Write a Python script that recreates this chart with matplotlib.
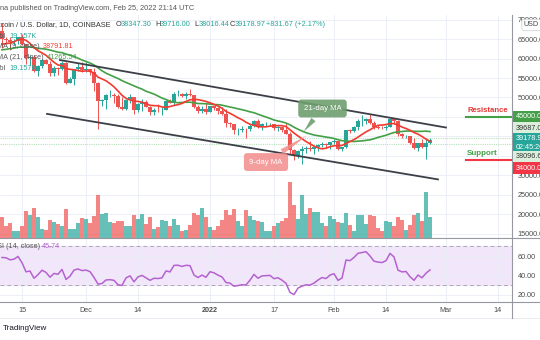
import matplotlib
matplotlib.use("Agg")
import matplotlib.pyplot as plt
import matplotlib.dates as mdates
import matplotlib.transforms as mtransforms
from matplotlib.lines import Line2D
import numpy as np
import pandas as pd

plt.rcParams["font.family"] = ["Liberation Sans", "DejaVu Sans"]

# closes before the visible window (Oct 1 - Nov 9 2021), only used to warm up MA / RSI
warmup_close = [48100, 47650, 48200, 49250, 51500, 55340, 53800, 53950, 54950, 54680,
                57480, 56040, 57370, 57350, 61670, 60880, 61530, 62030, 64260, 65990,
                62200, 60700, 61300, 60850, 63080, 60330, 58450, 60600, 62250, 61850,
                61300, 61000, 63250, 62950, 61450, 61000, 61500, 63300, 67550, 66950]

# daily BTC/USD candles, Nov 10 2021 - Feb 25 2022
opens = [66950, 64900, 64800, 64150, 64400, 65500, 63600, 60100, 60350, 56900, 58100, 59700, 58700, 56300, 57600, 57200, 58900, 53600, 54800, 57300, 57800,
         57000, 57200, 56500, 53600, 49200, 49400, 50600, 50700, 50300, 47600, 47100, 49400, 50100, 46700, 48400, 48900, 47600, 46200, 46850, 46700, 46900, 49000, 48600, 50800, 50850, 50450, 50800, 50700, 47500, 46450, 47100,
         46200, 47700, 47300, 46450, 45800, 43400, 43100, 41550, 41700, 41850, 41800, 42700, 43900, 42600, 43100, 43150, 43200, 42250, 42400, 41700, 40700, 36450, 35050, 36300, 36700, 36950, 36850, 37200, 37750, 38200, 37900,
         38500, 38750, 36900, 37300, 41550, 41400, 42400, 43850, 44100, 44400, 43550, 42400, 42200, 42100, 42550, 44600, 43900, 40550, 40000, 40100, 38400, 37050, 38250, 37250, 38347.30]
highs = [69000, 65600, 65500, 65000, 65500, 66300, 63600, 60800, 60950, 58400, 59900, 60000, 59300, 58000, 57800, 59400, 59200, 55300, 57400, 58900, 59200,
         59100, 57400, 57600, 53900, 49700, 50900, 51900, 51200, 50800, 50100, 49500, 50800, 50200, 48700, 49500, 49400, 47900, 47300, 48300, 47500, 49300, 49600, 51400, 51800, 51200, 51300, 52100, 50700, 48100, 47900, 48500,
         47900, 47900, 47500, 47500, 47000, 43700, 43100, 42300, 42800, 42200, 43100, 44300, 44400, 43400, 43800, 43500, 43200, 42700, 42500, 43500, 41100, 36850, 36500, 37500, 37550, 38900, 37500, 38000, 38700, 38400, 38700,
         39300, 38850, 37400, 41700, 41900, 42600, 44500, 45500, 44800, 45800, 43900, 43000, 42800, 42900, 44800, 44600, 44200, 40950, 40500, 40150, 39500, 38450, 39300, 39700, 39716.00]
lows = [62800, 64100, 62300, 63400, 63600, 63500, 58600, 58400, 56500, 55600, 57500, 58500, 55600, 55400, 55800, 57000, 53500, 53600, 53300, 56700, 56500,
        56500, 55800, 51700, 42000, 47700, 47100, 50100, 48600, 47300, 46900, 46800, 48700, 45700, 46300, 46600, 47500, 45500, 45600, 46400, 45600, 46700, 48500, 48100, 50500, 50200, 49500, 50500, 47300, 46100, 46000, 45700,
        46200, 46700, 45700, 45500, 42500, 42500, 40600, 40500, 41200, 39600, 41300, 42500, 42300, 41700, 42600, 42700, 41600, 41300, 41100, 40600, 35500, 34000, 34600, 32900, 35700, 36400, 35500, 36200, 37300, 37400, 36700,
        38200, 36600, 36300, 37100, 40900, 41100, 41700, 42700, 43100, 43200, 42000, 41800, 41900, 41600, 42400, 43300, 40100, 39500, 39700, 38000, 36800, 36400, 37050, 34300, 38016.44]
closes = [64900, 64800, 64150, 64400, 65500, 63600, 60100, 60350, 56900, 58100, 59700, 58700, 56300, 57600, 57200, 58900, 53600, 54800, 57300, 57800, 57000,
          57200, 56500, 53600, 49200, 49400, 50600, 50700, 50300, 47600, 47100, 49400, 50100, 46700, 48400, 48900, 47600, 46200, 46850, 46700, 46900, 49000, 48600, 50800, 50850, 50450, 50800, 50700, 47500, 46450, 47100, 46200,
          47700, 47300, 46450, 45800, 43400, 43100, 41550, 41700, 41850, 41800, 42700, 43900, 42600, 43100, 43150, 43200, 42250, 42400, 41700, 40700, 36450, 35050, 36300, 36700, 36950, 36850, 37200, 37750, 38200, 37900, 38500,
          38750, 36900, 37300, 41550, 41400, 42400, 43850, 44100, 44400, 43550, 42400, 42200, 42100, 42550, 44600, 43900, 40550, 40000, 40100, 38400, 37050, 38250, 37250, 38347.30, 39178.97]
volumes_k = [18.9, 10.5, 13.5, 6.0, 6.6, 10.5, 24.5, 20.4, 26.9, 18.3, 7.8, 7.2, 16.2, 14.1, 12.6, 11.1, 25.7, 8.4, 8.4, 13.5, 18.0,
             16.8, 13.2, 19.5, 38.3, 21.5, 22.7, 14.4, 13.2, 15.3, 15.3, 11.1, 10.8, 20.4, 17.4, 21.5, 12.9, 18.3, 8.4, 10.2, 16.2, 15.6, 11.1, 16.8, 11.7, 6.0, 7.2, 11.7, 22.4, 20.1, 27.2, 18.9,
             9.9, 7.5, 11.1, 16.2, 25.1, 20.4, 26.3, 15.6, 11.1, 25.1, 19.5, 16.5, 15.0, 14.1, 6.6, 6.6, 11.1, 13.8, 15.6, 18.0, 49.7, 29.3, 17.4, 38.3, 21.8, 27.2, 23.3, 23.0, 13.2, 11.1, 19.5,
             16.8, 14.1, 13.2, 22.1, 11.7, 6.6, 20.1, 20.7, 12.6, 20.1, 19.5, 9.0, 6.6, 15.3, 14.7, 10.5, 18.6, 16.2, 6.9, 11.4, 20.7, 22.7, 15.6, 40.7, 19.157]

# drawn channel and levels
upper_channel = (["2021-11-24 12:00", "2022-03-01 00:00"], [59600, 42300])
lower_channel = (["2021-11-21 06:00", "2022-02-27 00:00"], [45800, 29000])
resistance = 45000
support = 34000
hi_line, lo_line = 39687.02, 38096.60
time_ticks = ["2021-11-15", "2021-12-01", "2021-12-14", "2022-01-01", "2022-01-17",
              "2022-02-01", "2022-02-14", "2022-03-01", "2022-03-14"]
time_labels = ["15", "Dec", "14", "2022", "17", "Feb", "14", "Mar", "14"]
price_ticks = list(range(15000, 75000, 5000))
hidden_price_labels = [35000, 40000, 45000]   # covered by the price tags

UP, DOWN = "#26a69a", "#ef5350"
FS = 5.2

# indicators from the closes
all_close = pd.Series(warmup_close + closes, dtype=float)
ma9 = all_close.rolling(9).mean().iloc[len(warmup_close):].values
ma21 = all_close.rolling(21).mean().iloc[len(warmup_close):].values
delta = all_close.diff()
avg_gain = delta.clip(lower=0).ewm(alpha=1 / 14, adjust=False).mean()
avg_loss = (-delta.clip(upper=0)).ewm(alpha=1 / 14, adjust=False).mean()
rsi = (100 - 100 / (1 + avg_gain / avg_loss)).iloc[len(warmup_close):].values

dates = pd.date_range("2021-11-10", periods=len(closes), freq="D")
x = mdates.date2num(dates)
o, h, l, c = map(np.array, (opens, highs, lows, closes))
colors = np.where(c >= o, UP, DOWN)


def P(px, py):
    return px / 540, 1 - py / 340


def dnum(s):
    return mdates.date2num(pd.Timestamp(s))


fig = plt.figure(figsize=(5.4, 3.4), dpi=100)
fig.patch.set_facecolor("white")

ax = fig.add_axes([0, 1 - 238 / 340, 512 / 540, 223 / 340])
ax_vol = fig.add_axes([0, 1 - 238 / 340, 512 / 540, 223 / 340], sharex=ax, facecolor="none")
ax_rsi = fig.add_axes([0, 1 - 302 / 340, 512 / 540, 64 / 340], sharex=ax)

x0 = dnum("2021-11-15") - 5.5
ax.set_xlim(x0, x0 + 128)
ax.set_ylim(13974, 71154)
ax_vol.set_ylim(0, 199)
ax_rsi.set_ylim(12.8, 78.5)

tick_x = [dnum(t) for t in time_ticks]
for a in (ax, ax_rsi):
    for s in a.spines.values():
        s.set_visible(False)
    a.set_xticks(tick_x)
    a.grid(True, color="#e9eef5", lw=0.6)
    a.set_axisbelow(True)
    a.yaxis.tick_right()
    a.tick_params(axis="y", length=0, pad=4, labelsize=FS, labelcolor="#4a4a4a")
    a.tick_params(axis="x", length=0, labelbottom=False)
ax_vol.axis("off")

# time labels under the RSI pane
tr = mtransforms.blended_transform_factory(ax_rsi.transData, fig.transFigure)
for tx, lab in zip(tick_x, time_labels):
    ax_rsi.text(tx, 1 - 310 / 340, lab, transform=tr, ha="center", va="center",
                fontsize=FS, color="#4a4a4a", fontweight="bold" if lab == "2022" else "normal")

ax.set_yticks(price_ticks)
ax.set_yticklabels(["" if v in hidden_price_labels else f"{v:.2f}" for v in price_ticks])
ax_rsi.set_yticks([20, 40, 60])
ax_rsi.set_yticklabels(["20.00", "40.00", "60.00"])

# level lines
ax.axhline(hi_line, color="#b9e0bb", lw=0.8, ls=(0, (1, 1)))
ax.axhline(lo_line, color="#b9e0bb", lw=0.8, ls=(0, (1, 1)))

# candles
ax.vlines(x, l, h, color=colors, lw=0.7, zorder=3)
ax.bar(x, np.maximum(np.abs(c - o), 60), bottom=np.minimum(o, c), width=0.76, color=colors, zorder=4)

# moving averages
ax.plot(x, ma21, color="#43a047", lw=1.2, zorder=5)
ax.plot(x, ma9, color="#f23b30", lw=1.2, zorder=5)

# channel
for d, p in (upper_channel, lower_channel):
    ax.plot([dnum(s) for s in d], p, color="#3c3f47", lw=1.3, zorder=6)

# support / resistance
lvl_x0 = dnum("2022-03-06")
ax.plot([lvl_x0, x0 + 128], [resistance, resistance], color="#43a047", lw=1.5, zorder=6)
ax.plot([lvl_x0, x0 + 128], [support, support], color="#f23645", lw=1.5, zorder=6)
ax.text(lvl_x0 + 0.25, 46550, "Resistance", color="#e53935", fontsize=5.6, fontweight="bold", va="center")
ax.text(lvl_x0 + 0.25, 35750, "Support", color="#43a047", fontsize=5.8, fontweight="bold", va="center")

# callouts
ax.annotate("21-day MA", xy=(dnum("2022-01-24"), 40700),
            xytext=(dnum("2022-01-29 03:00"), 47180),
            ha="center", va="center", color="white", fontsize=5.6, zorder=7,
            bbox=dict(boxstyle="round,pad=0.7,rounding_size=0.4", fc="#6f9f6f", ec="none", alpha=0.9),
            arrowprops=dict(arrowstyle="wedge,tail_width=0.7", fc="#6f9f6f", ec="none", alpha=0.9))
ax.annotate("9-day MA", xy=(dnum("2022-01-25 18:00"), 40600),
            xytext=(dnum("2022-01-15"), 33450),
            ha="center", va="center", color="white", fontsize=5.6, zorder=7,
            bbox=dict(boxstyle="round,pad=0.7,rounding_size=0.4", fc="#f28c8c", ec="none", alpha=0.85),
            arrowprops=dict(arrowstyle="wedge,tail_width=0.7", fc="#f28c8c", ec="none", alpha=0.85))

# volume
ax_vol.bar(x, volumes_k, width=0.8, color=colors, alpha=0.7)

# RSI
ax_rsi.axhspan(30, 70, color="#f2e6fb", zorder=0)
ax_rsi.axhline(70, color="#a9a9b5", lw=0.7, ls=(0, (4, 3)))
ax_rsi.axhline(30, color="#a9a9b5", lw=0.7, ls=(0, (4, 3)))
ax_rsi.plot(x, rsi, color="#b462cf", lw=1.1)

# frame lines
for y0 in (238, 302):
    fig.add_artist(Line2D([0, 1], [1 - y0 / 340] * 2, transform=fig.transFigure, color="#9598a1", lw=0.8))
fig.add_artist(Line2D([0, 1], [1 - 318 / 340] * 2, transform=fig.transFigure, color="#e6e8ee", lw=0.6))
fig.add_artist(Line2D([512 / 540] * 2, [1 - 15 / 340, 1 - 318 / 340], transform=fig.transFigure, color="#9598a1", lw=0.8))

# header
fig.text(*P(0, 8), "na published on TradingView.com, Feb 25, 2022 21:14 UTC", fontsize=5.3, color="#555555", va="center")
fig.text(*P(110, 25), "Bitcoin / U.S. Dollar, 1D, COINBASE", fontsize=5.3, color="#333333", va="center", ha="right")
for lab, val, px_ in (("O", opens[-1], 116), ("H", highs[-1], 155), ("L", lows[-1], 194), ("C", closes[-1], 230)):
    fig.text(*P(px_, 25), lab, fontsize=5.3, color="#333333", va="center")
    fig.text(*P(px_ + 5, 25), f"{val:.2f}", fontsize=5.3, color=UP, va="center")
chg = closes[-1] - opens[-1]
fig.text(*P(266, 25), f"{chg:+.2f} ({chg / opens[-1] * 100:+.2f}%)", fontsize=5.3, color=UP, va="center")

# legend rows
for py in (36, 68):
    fig.text(*P(6, py), "Vol", fontsize=FS, color="#555555", va="center", ha="right")
    fig.text(*P(9, py), f"{volumes_k[-1]:.3f}K", fontsize=FS, color=UP, va="center")
fig.text(*P(40, 47), "MA (9, close)", fontsize=FS, color="#555555", va="center", ha="right")
fig.text(*P(43, 47), f"{ma9[-1]:.2f}", fontsize=FS, color="#f23b30", va="center")
fig.text(*P(44, 57.5), "MA (21, close)", fontsize=FS, color="#555555", va="center", ha="right")
fig.text(*P(47, 57.5), f"{ma21[-1]:.2f}", fontsize=FS, color="#43a047", va="center")
fig.text(*P(40, 247), "RSI (14, close)", fontsize=FS, color="#555555", va="center", ha="right")
fig.text(*P(42, 247), f"{rsi[-1]:.2f}", fontsize=FS, color="#b462cf", va="center")

# price-scale tags
tags = [(117, f"{resistance:.2f}", "#43a047", "white"),
        (128, f"{hi_line:.2f}", "#dcefdc", "#333333"),
        (143, f"{closes[-1]:.2f}\n02:45:26", UP, "white"),
        (157, f"{lo_line:.2f}", "#dcefdc", "#333333"),
        (168, f"{support:.2f}", "#f23645", "white")]
for py, txt, bg, fg in tags:
    fig.text(*P(516, py), txt, fontsize=FS, color=fg, va="center", linespacing=1.3,
             bbox=dict(boxstyle="square,pad=0.35", fc=bg, ec="none"))
fig.text(*P(524, 25), "USD", fontsize=FS, color="#4a4a4a", va="center",
         bbox=dict(boxstyle="round,pad=0.3", fc="white", ec="#d1d4dc", lw=0.6))

fig.text(*P(3, 329), "TradingView", fontsize=5.8, color="#131722", va="center")

fig.savefig("out.png", dpi=100)
